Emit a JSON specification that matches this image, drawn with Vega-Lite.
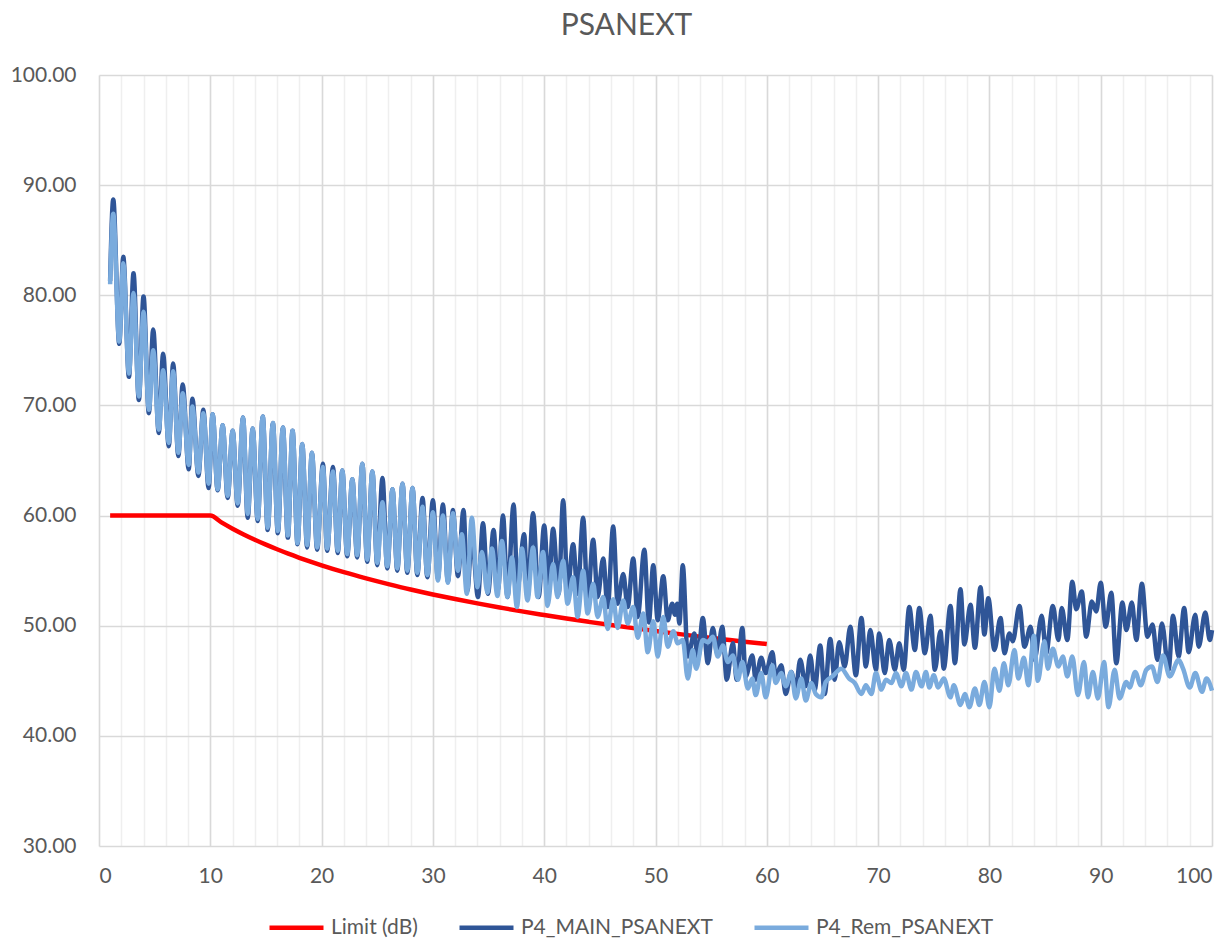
{
  "$schema": "https://vega.github.io/schema/vega-lite/v6.json",
  "width": 1113,
  "height": 771,
  "autosize": "none",
  "padding": {"left": 99, "top": 75, "right": 20, "bottom": 96},
  "background": "white",
  "title": {"text": "PSANEXT", "fontSize": 30, "font": "Lato", "fontWeight": "normal", "color": "#595959", "anchor": "middle", "dx": -29, "offset": 23},
  "config": {
    "view": {"stroke": null},
    "font": "Lato",
    "legend": {"orient": "none", "legendX": 168, "legendY": 823, "direction": "horizontal", "symbolType": "stroke", "symbolSize": 2916, "symbolStrokeWidth": 4.5, "labelFontSize": 21, "labelColor": "#595959", "labelFont": "Lato", "labelLimit": 500, "columnPadding": 32, "labelOffset": 5, "title": null, "padding": 0}
  },
  "datasets": {
    "lim": [
      {"f": 1, "v": 60}, {"f": 10, "v": 60}, {"f": 11, "v": 59.38}, {"f": 12, "v": 58.81}, {"f": 13, "v": 58.29}, {"f": 14, "v": 57.81}, {"f": 15, "v": 57.36}, {"f": 16, "v": 56.94}, {"f": 17, "v": 56.54}, {"f": 18, "v": 56.17}, {"f": 19, "v": 55.82}, {"f": 20, "v": 55.48}, {"f": 22, "v": 54.86}, {"f": 24, "v": 54.3}, {"f": 26, "v": 53.78}, {"f": 28, "v": 53.29}, {"f": 30, "v": 52.84}, {"f": 32, "v": 52.42}, {"f": 34, "v": 52.03}, {"f": 36, "v": 51.66}, {"f": 38, "v": 51.3}, {"f": 40, "v": 50.97}, {"f": 42, "v": 50.65}, {"f": 44, "v": 50.35}, {"f": 46, "v": 50.06}, {"f": 48, "v": 49.78}, {"f": 50, "v": 49.52}, {"f": 52, "v": 49.26}, {"f": 54, "v": 49.01}, {"f": 56, "v": 48.78}, {"f": 58, "v": 48.55}, {"f": 60, "v": 48.33}
    ],
    "main": [
      {"f": 1.0, "v": 81.3}, {"f": 1.28, "v": 88.7}, {"f": 1.82, "v": 75.6}, {"f": 2.18, "v": 83.5}, {"f": 2.69, "v": 72.6}, {"f": 3.1, "v": 82.0}, {"f": 3.58, "v": 70.5}, {"f": 4.0, "v": 79.9}, {"f": 4.48, "v": 69.3}, {"f": 4.87, "v": 76.9}, {"f": 5.37, "v": 67.5}, {"f": 5.76, "v": 74.7}, {"f": 6.27, "v": 66.3}, {"f": 6.66, "v": 73.8}, {"f": 7.13, "v": 65.4}, {"f": 7.52, "v": 71.9}, {"f": 8.06, "v": 64.2}, {"f": 8.39, "v": 70.6}, {"f": 8.93, "v": 63.6}, {"f": 9.37, "v": 69.6}, {"f": 9.85, "v": 62.5}, {"f": 10.21, "v": 69.2}, {"f": 10.66, "v": 62.3}, {"f": 11.11, "v": 68.2}, {"f": 11.56, "v": 61.6}, {"f": 12.01, "v": 67.7}, {"f": 12.46, "v": 60.9}, {"f": 12.94, "v": 68.9}, {"f": 13.36, "v": 59.8}, {"f": 13.81, "v": 67.9}, {"f": 14.26, "v": 59.5}, {"f": 14.71, "v": 69.0}, {"f": 15.16, "v": 58.7}, {"f": 15.62, "v": 68.4}, {"f": 16.07, "v": 58.4}, {"f": 16.52, "v": 68.0}, {"f": 16.97, "v": 58.0}, {"f": 17.39, "v": 67.7}, {"f": 17.84, "v": 57.4}, {"f": 18.26, "v": 66.5}, {"f": 18.7, "v": 57.1}, {"f": 19.13, "v": 65.7}, {"f": 19.6, "v": 56.9}, {"f": 20.12, "v": 64.7}, {"f": 20.5, "v": 56.8}, {"f": 21.02, "v": 64.4}, {"f": 21.45, "v": 56.6}, {"f": 21.86, "v": 64.1}, {"f": 22.3, "v": 56.3}, {"f": 22.76, "v": 63.3}, {"f": 23.2, "v": 56.2}, {"f": 23.66, "v": 64.7}, {"f": 24.1, "v": 55.8}, {"f": 24.56, "v": 64.0}, {"f": 25.0, "v": 55.5}, {"f": 25.47, "v": 63.4}, {"f": 25.9, "v": 55.2}, {"f": 26.37, "v": 62.4}, {"f": 26.8, "v": 55.0}, {"f": 27.27, "v": 62.9}, {"f": 27.7, "v": 54.8}, {"f": 28.17, "v": 62.5}, {"f": 28.6, "v": 54.6}, {"f": 29.07, "v": 61.6}, {"f": 29.5, "v": 54.4}, {"f": 30.0, "v": 61.4}, {"f": 30.45, "v": 54.3}, {"f": 30.9, "v": 61.0}, {"f": 31.35, "v": 54.0}, {"f": 31.8, "v": 60.5}, {"f": 32.25, "v": 54.5}, {"f": 32.75, "v": 60.5}, {"f": 33.1, "v": 53.2}, {"f": 33.5, "v": 58.2}, {"f": 34.05, "v": 52.6}, {"f": 34.5, "v": 59.3}, {"f": 34.95, "v": 52.9}, {"f": 35.45, "v": 58.7}, {"f": 35.85, "v": 53.3}, {"f": 36.3, "v": 60.0}, {"f": 36.7, "v": 52.6}, {"f": 37.25, "v": 61.0}, {"f": 37.6, "v": 53.5}, {"f": 38.2, "v": 58.3}, {"f": 38.5, "v": 52.6}, {"f": 39.0, "v": 60.2}, {"f": 39.5, "v": 52.6}, {"f": 40.0, "v": 59.1}, {"f": 40.4, "v": 53.5}, {"f": 40.8, "v": 58.8}, {"f": 41.3, "v": 52.9}, {"f": 41.7, "v": 61.4}, {"f": 42.1, "v": 53.2}, {"f": 42.6, "v": 57.4}, {"f": 43.0, "v": 52.9}, {"f": 43.5, "v": 59.8}, {"f": 43.9, "v": 52.3}, {"f": 44.4, "v": 57.8}, {"f": 44.8, "v": 52.6}, {"f": 45.3, "v": 56.1}, {"f": 45.7, "v": 51.7}, {"f": 46.2, "v": 59.0}, {"f": 46.6, "v": 52.0}, {"f": 47.1, "v": 54.7}, {"f": 47.5, "v": 51.7}, {"f": 48.0, "v": 56.1}, {"f": 48.4, "v": 50.8}, {"f": 49.0, "v": 56.9}, {"f": 49.4, "v": 50.3}, {"f": 49.8, "v": 55.5}, {"f": 50.2, "v": 50.5}, {"f": 50.7, "v": 54.5}, {"f": 51.1, "v": 50.5}, {"f": 51.5, "v": 52.0}, {"f": 51.75, "v": 51.0}, {"f": 51.95, "v": 52.0}, {"f": 52.15, "v": 50.2}, {"f": 52.45, "v": 55.5}, {"f": 52.9, "v": 47.2}, {"f": 53.5, "v": 49.3}, {"f": 53.8, "v": 46.9}, {"f": 54.25, "v": 50.7}, {"f": 54.7, "v": 46.6}, {"f": 55.15, "v": 49.8}, {"f": 55.55, "v": 47.5}, {"f": 56.0, "v": 49.9}, {"f": 56.4, "v": 45.1}, {"f": 56.95, "v": 48.4}, {"f": 57.3, "v": 45.1}, {"f": 57.8, "v": 49.8}, {"f": 58.1, "v": 45.4}, {"f": 58.7, "v": 47.3}, {"f": 59.0, "v": 45.1}, {"f": 59.5, "v": 47.1}, {"f": 59.9, "v": 45.7}, {"f": 60.5, "v": 47.6}, {"f": 60.8, "v": 45.4}, {"f": 61.3, "v": 46.4}, {"f": 61.7, "v": 43.8}, {"f": 62.2, "v": 45.8}, {"f": 62.6, "v": 44.2}, {"f": 63.0, "v": 46.9}, {"f": 63.5, "v": 44.5}, {"f": 63.9, "v": 47.3}, {"f": 64.3, "v": 44.2}, {"f": 64.8, "v": 48.2}, {"f": 65.2, "v": 43.8}, {"f": 65.7, "v": 48.8}, {"f": 66.1, "v": 45.1}, {"f": 66.5, "v": 48.5}, {"f": 67.0, "v": 46.3}, {"f": 67.5, "v": 49.9}, {"f": 68.0, "v": 45.5}, {"f": 68.5, "v": 50.7}, {"f": 68.9, "v": 46.3}, {"f": 69.3, "v": 49.6}, {"f": 69.8, "v": 46.0}, {"f": 70.1, "v": 49.3}, {"f": 70.6, "v": 45.7}, {"f": 71.0, "v": 48.7}, {"f": 71.5, "v": 46.0}, {"f": 71.9, "v": 48.4}, {"f": 72.3, "v": 46.0}, {"f": 72.8, "v": 51.7}, {"f": 73.3, "v": 47.8}, {"f": 73.7, "v": 51.6}, {"f": 74.2, "v": 47.5}, {"f": 74.7, "v": 50.9}, {"f": 75.1, "v": 46.0}, {"f": 75.6, "v": 49.5}, {"f": 75.9, "v": 46.1}, {"f": 76.5, "v": 51.8}, {"f": 76.9, "v": 46.6}, {"f": 77.4, "v": 53.3}, {"f": 77.75, "v": 48.3}, {"f": 78.3, "v": 51.9}, {"f": 78.7, "v": 48.0}, {"f": 79.2, "v": 53.5}, {"f": 79.55, "v": 49.2}, {"f": 79.9, "v": 52.5}, {"f": 80.45, "v": 47.8}, {"f": 81.0, "v": 50.7}, {"f": 81.35, "v": 47.5}, {"f": 81.8, "v": 49.3}, {"f": 82.1, "v": 48.6}, {"f": 82.7, "v": 51.8}, {"f": 83.15, "v": 48.1}, {"f": 83.7, "v": 49.9}, {"f": 84.05, "v": 46.9}, {"f": 84.7, "v": 50.9}, {"f": 85.1, "v": 47.5}, {"f": 85.7, "v": 51.8}, {"f": 86.2, "v": 48.7}, {"f": 86.5, "v": 51.6}, {"f": 87.0, "v": 48.7}, {"f": 87.45, "v": 54.0}, {"f": 87.8, "v": 51.5}, {"f": 88.3, "v": 53.1}, {"f": 88.7, "v": 49.0}, {"f": 89.2, "v": 52.2}, {"f": 89.6, "v": 51.3}, {"f": 90.0, "v": 53.9}, {"f": 90.45, "v": 49.9}, {"f": 90.95, "v": 53.0}, {"f": 91.4, "v": 46.6}, {"f": 91.95, "v": 52.1}, {"f": 92.3, "v": 49.6}, {"f": 92.8, "v": 52.1}, {"f": 93.2, "v": 48.7}, {"f": 93.7, "v": 53.8}, {"f": 94.2, "v": 49.0}, {"f": 94.65, "v": 50.1}, {"f": 95.1, "v": 46.9}, {"f": 95.5, "v": 50.2}, {"f": 96.1, "v": 46.0}, {"f": 96.5, "v": 50.9}, {"f": 97.0, "v": 47.2}, {"f": 97.5, "v": 51.6}, {"f": 97.9, "v": 47.6}, {"f": 98.5, "v": 51.0}, {"f": 98.8, "v": 48.1}, {"f": 99.4, "v": 51.2}, {"f": 99.8, "v": 48.7}, {"f": 100.0, "v": 49.6}
    ],
    "rem": [
      {"f": 1.0, "v": 81.0}, {"f": 1.28, "v": 87.4}, {"f": 1.82, "v": 75.8}, {"f": 2.18, "v": 82.9}, {"f": 2.69, "v": 72.9}, {"f": 3.1, "v": 80.2}, {"f": 3.58, "v": 70.8}, {"f": 4.0, "v": 78.5}, {"f": 4.48, "v": 69.6}, {"f": 4.87, "v": 75.0}, {"f": 5.37, "v": 67.8}, {"f": 5.76, "v": 73.2}, {"f": 6.27, "v": 66.6}, {"f": 6.66, "v": 73.1}, {"f": 7.13, "v": 65.7}, {"f": 7.52, "v": 71.1}, {"f": 8.06, "v": 64.6}, {"f": 8.39, "v": 69.9}, {"f": 8.93, "v": 63.9}, {"f": 9.37, "v": 69.3}, {"f": 9.85, "v": 62.9}, {"f": 10.21, "v": 69.2}, {"f": 10.66, "v": 62.4}, {"f": 11.11, "v": 68.2}, {"f": 11.56, "v": 61.8}, {"f": 12.01, "v": 67.7}, {"f": 12.46, "v": 61.1}, {"f": 12.94, "v": 68.9}, {"f": 13.36, "v": 60.15}, {"f": 13.81, "v": 67.9}, {"f": 14.26, "v": 59.7}, {"f": 14.71, "v": 69.0}, {"f": 15.16, "v": 58.9}, {"f": 15.62, "v": 68.4}, {"f": 16.07, "v": 58.6}, {"f": 16.52, "v": 68.0}, {"f": 16.97, "v": 58.2}, {"f": 17.39, "v": 67.7}, {"f": 17.84, "v": 57.5}, {"f": 18.26, "v": 66.5}, {"f": 18.7, "v": 57.3}, {"f": 19.13, "v": 65.7}, {"f": 19.6, "v": 57.1}, {"f": 20.12, "v": 64.4}, {"f": 20.5, "v": 57.0}, {"f": 21.02, "v": 64.0}, {"f": 21.45, "v": 56.8}, {"f": 21.86, "v": 64.1}, {"f": 22.3, "v": 56.5}, {"f": 22.76, "v": 63.3}, {"f": 23.2, "v": 56.4}, {"f": 23.66, "v": 64.7}, {"f": 24.1, "v": 56.0}, {"f": 24.56, "v": 64.0}, {"f": 25.0, "v": 55.7}, {"f": 25.47, "v": 61.2}, {"f": 25.9, "v": 55.4}, {"f": 26.37, "v": 62.4}, {"f": 26.8, "v": 55.2}, {"f": 27.27, "v": 62.9}, {"f": 27.7, "v": 55.0}, {"f": 28.17, "v": 62.5}, {"f": 28.6, "v": 54.8}, {"f": 29.07, "v": 60.8}, {"f": 29.5, "v": 54.6}, {"f": 30.0, "v": 60.3}, {"f": 30.45, "v": 54.1}, {"f": 30.9, "v": 60.0}, {"f": 31.35, "v": 53.9}, {"f": 31.8, "v": 60.2}, {"f": 32.25, "v": 55.0}, {"f": 32.6, "v": 58.3}, {"f": 33.05, "v": 52.9}, {"f": 33.5, "v": 59.8}, {"f": 34.0, "v": 53.5}, {"f": 34.4, "v": 56.7}, {"f": 34.9, "v": 53.0}, {"f": 35.3, "v": 57.0}, {"f": 35.8, "v": 52.7}, {"f": 36.2, "v": 57.7}, {"f": 36.7, "v": 52.6}, {"f": 37.1, "v": 56.2}, {"f": 37.55, "v": 51.7}, {"f": 38.0, "v": 57.0}, {"f": 38.5, "v": 52.3}, {"f": 39.0, "v": 57.1}, {"f": 39.4, "v": 52.6}, {"f": 39.9, "v": 56.7}, {"f": 40.3, "v": 51.8}, {"f": 40.8, "v": 55.6}, {"f": 41.2, "v": 52.6}, {"f": 41.7, "v": 55.9}, {"f": 42.1, "v": 52.0}, {"f": 42.6, "v": 54.4}, {"f": 43.0, "v": 50.8}, {"f": 43.5, "v": 55.0}, {"f": 43.9, "v": 51.1}, {"f": 44.4, "v": 53.8}, {"f": 44.8, "v": 50.8}, {"f": 45.3, "v": 52.6}, {"f": 45.7, "v": 49.7}, {"f": 46.2, "v": 52.4}, {"f": 46.6, "v": 49.8}, {"f": 47.1, "v": 52.3}, {"f": 47.5, "v": 50.2}, {"f": 48.0, "v": 51.7}, {"f": 48.4, "v": 48.9}, {"f": 48.9, "v": 51.1}, {"f": 49.3, "v": 47.6}, {"f": 49.8, "v": 50.4}, {"f": 50.2, "v": 47.2}, {"f": 50.7, "v": 50.8}, {"f": 51.1, "v": 48.1}, {"f": 51.6, "v": 49.5}, {"f": 52.0, "v": 48.4}, {"f": 52.45, "v": 48.7}, {"f": 52.9, "v": 45.2}, {"f": 53.35, "v": 47.8}, {"f": 53.65, "v": 46.1}, {"f": 54.25, "v": 48.7}, {"f": 54.7, "v": 48.5}, {"f": 55.15, "v": 49.0}, {"f": 55.6, "v": 47.2}, {"f": 56.05, "v": 48.2}, {"f": 56.5, "v": 46.7}, {"f": 56.95, "v": 47.3}, {"f": 57.4, "v": 45.1}, {"f": 57.8, "v": 46.7}, {"f": 58.3, "v": 44.3}, {"f": 58.7, "v": 45.2}, {"f": 59.0, "v": 43.7}, {"f": 59.5, "v": 45.7}, {"f": 59.9, "v": 43.5}, {"f": 60.5, "v": 46.4}, {"f": 60.8, "v": 44.8}, {"f": 61.3, "v": 45.7}, {"f": 61.7, "v": 44.5}, {"f": 62.2, "v": 45.8}, {"f": 62.6, "v": 43.4}, {"f": 63.1, "v": 45.2}, {"f": 63.5, "v": 43.2}, {"f": 64.0, "v": 44.8}, {"f": 64.4, "v": 43.8}, {"f": 64.9, "v": 43.5}, {"f": 65.3, "v": 44.9}, {"f": 65.9, "v": 45.4}, {"f": 66.7, "v": 46.1}, {"f": 67.4, "v": 45.2}, {"f": 67.9, "v": 44.8}, {"f": 68.5, "v": 43.8}, {"f": 68.9, "v": 44.6}, {"f": 69.4, "v": 43.8}, {"f": 69.8, "v": 45.7}, {"f": 70.3, "v": 44.2}, {"f": 70.7, "v": 45.1}, {"f": 71.2, "v": 44.8}, {"f": 71.6, "v": 45.7}, {"f": 72.1, "v": 44.5}, {"f": 72.5, "v": 45.7}, {"f": 73.0, "v": 44.2}, {"f": 73.4, "v": 45.8}, {"f": 73.9, "v": 44.5}, {"f": 74.3, "v": 45.8}, {"f": 74.6, "v": 44.4}, {"f": 75.0, "v": 45.5}, {"f": 75.4, "v": 44.4}, {"f": 75.9, "v": 45.2}, {"f": 76.5, "v": 43.5}, {"f": 76.8, "v": 44.6}, {"f": 77.4, "v": 42.8}, {"f": 77.8, "v": 43.8}, {"f": 78.2, "v": 42.6}, {"f": 78.7, "v": 44.3}, {"f": 79.1, "v": 42.8}, {"f": 79.55, "v": 44.9}, {"f": 80.0, "v": 42.6}, {"f": 80.45, "v": 46.1}, {"f": 80.9, "v": 44.1}, {"f": 81.3, "v": 46.6}, {"f": 81.7, "v": 44.6}, {"f": 82.25, "v": 47.8}, {"f": 82.6, "v": 45.2}, {"f": 83.1, "v": 47.1}, {"f": 83.5, "v": 44.6}, {"f": 84.0, "v": 49.1}, {"f": 84.35, "v": 45.0}, {"f": 84.95, "v": 48.6}, {"f": 85.25, "v": 46.1}, {"f": 85.7, "v": 47.9}, {"f": 86.2, "v": 46.3}, {"f": 86.6, "v": 47.2}, {"f": 87.0, "v": 45.4}, {"f": 87.45, "v": 47.2}, {"f": 87.95, "v": 43.7}, {"f": 88.5, "v": 46.7}, {"f": 88.85, "v": 43.5}, {"f": 89.3, "v": 45.8}, {"f": 89.75, "v": 43.4}, {"f": 90.3, "v": 46.7}, {"f": 90.7, "v": 42.6}, {"f": 91.25, "v": 46.0}, {"f": 91.7, "v": 43.4}, {"f": 92.3, "v": 44.9}, {"f": 92.6, "v": 44.4}, {"f": 93.1, "v": 45.8}, {"f": 93.6, "v": 44.6}, {"f": 94.1, "v": 46.0}, {"f": 94.6, "v": 46.3}, {"f": 95.1, "v": 44.9}, {"f": 95.6, "v": 47.3}, {"f": 96.2, "v": 45.4}, {"f": 97.0, "v": 46.9}, {"f": 97.4, "v": 46.1}, {"f": 98.0, "v": 44.4}, {"f": 98.5, "v": 45.7}, {"f": 99.1, "v": 44.0}, {"f": 99.5, "v": 45.2}, {"f": 100.0, "v": 44.1}
    ]
  },
  "layer": [
    {
      "data": {"name": "lim"},
      "mark": {"type": "line", "strokeWidth": 4.5, "interpolate": "monotone"},
      "encoding": {
        "x": {"field": "f", "type": "quantitative", "scale": {"domain": [0, 100], "nice": false, "zero": false},
              "axis": {"orient": "bottom", "values": [0,2,4,6,8,10,12,14,16,18,20,22,24,26,28,30,32,34,36,38,40,42,44,46,48,50,52,54,56,58,60,62,64,66,68,70,72,74,76,78,80,82,84,86,88,90,92,94,96,98,100], "labels": false, "ticks": false, "domain": false, "title": null, "grid": true, "gridColor": "#EFEFEF", "gridWidth": 1.5}},
        "y": {"field": "v", "type": "quantitative", "scale": {"domain": [30, 100], "nice": false, "zero": false},
              "axis": {"values": [30,40,50,60,70,80,90,100], "format": ".2f", "title": null, "domain": false, "ticks": false, "grid": true, "gridColor": "#D9D9D9", "gridWidth": 1.5, "labelFontSize": 21, "labelColor": "#595959", "labelFont": "Lato", "labelPadding": 23}},
        "color": {"datum": "Limit (dB)", "type": "nominal",
                  "scale": {"domain": ["Limit (dB)", "P4_MAIN_PSANEXT", "P4_Rem_PSANEXT"], "range": ["#FF0000", "#2F5597", "#7AABDD"]}}
      }
    },
    {
      "data": {"name": "main"},
      "mark": {"type": "line", "strokeWidth": 4.5, "interpolate": "monotone"},
      "encoding": {
        "x": {"field": "f", "type": "quantitative", "scale": {"domain": [0, 100], "nice": false, "zero": false},
              "axis": {"orient": "bottom", "values": [0,10,20,30,40,50,60,70,80,90,100], "format": "d", "title": null, "domain": false, "ticks": false, "grid": true, "gridColor": "#D9D9D9", "gridWidth": 1.5, "labelFontSize": 21, "labelColor": "#595959", "labelFont": "Lato", "labelPadding": 19}},
        "y": {"field": "v", "type": "quantitative"},
        "color": {"datum": "P4_MAIN_PSANEXT", "type": "nominal"}
      }
    },
    {
      "data": {"name": "rem"},
      "mark": {"type": "line", "strokeWidth": 4.5, "interpolate": "monotone"},
      "encoding": {
        "x": {"field": "f", "type": "quantitative", "axis": null},
        "y": {"field": "v", "type": "quantitative"},
        "color": {"datum": "P4_Rem_PSANEXT", "type": "nominal"}
      }
    }
  ],
  "resolve": {"axis": {"x": "independent"}}
}
